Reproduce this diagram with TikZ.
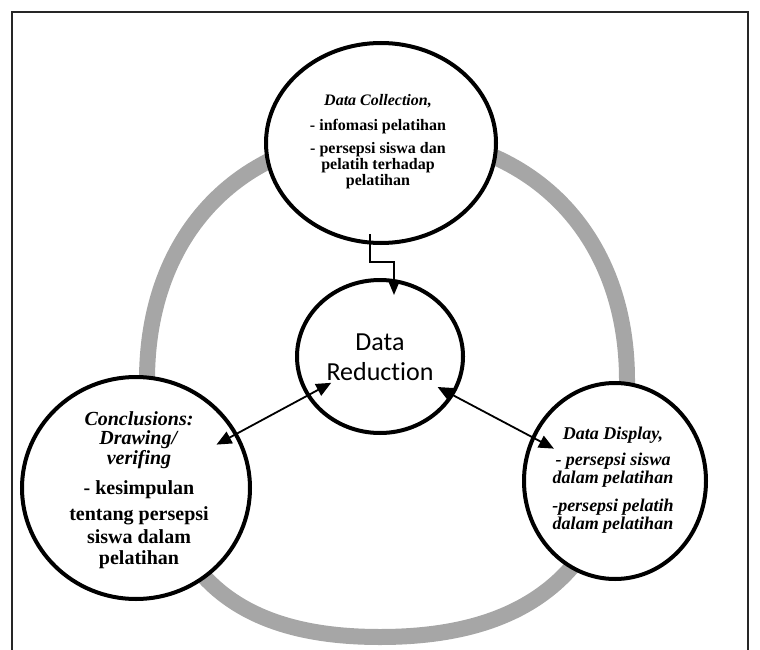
\documentclass[tikz,border=0pt]{standalone}
\usepackage{fontspec}
\setmainfont{Liberation Serif}
\newfontfamily\calfont[Ligatures=NoCommon]{Carlito}
\usepackage{tikz}
\usetikzlibrary{arrows.meta, shapes.geometric, calc}
\definecolor{ringgray}{RGB}{166,166,166}

\begin{document}
\begin{tikzpicture}[x=1pt, y=-1pt,
			ring/.style={draw=ringgray, line width=16pt},
			blob/.style={draw, ellipse, line width=4pt, fill=white, inner sep=0pt},
			txt/.style={align=center, inner sep=0pt},
			conn/.style={line width=1.8pt, -{Triangle[length=15pt, width=12pt]}},
			dbl/.style={line width=1.8pt, {Triangle[length=15pt, width=13pt]}-{Triangle[length=15pt, width=13pt]}}
		]
		\useasboundingbox (0,0) rectangle (760,650);

		% Draw the frame
		\draw[line width=2pt, black!85] (12,650) -- (12,12) -- (748,12) -- (748,650);

		% Draw the ring
		\draw[ring] (385,135) .. controls (530,135) and (627,233) .. (627,380)
			.. controls (627,560) and (540,637) .. (380,637)
			.. controls (220,637) and (147,560) .. (147,380)
			.. controls (147,233) and (242,135) .. cycle;

		% Draw the circles
		\node[blob, minimum width=230pt, minimum height=200pt] (coll) at (381,143) {};
		\node[blob, minimum width=166pt, minimum height=153pt] (red) at (380,356.5) {};
		\node[blob, minimum width=228pt, minimum height=222pt] (concl) at (136,488) {};
		\node[blob, minimum width=182pt, minimum height=196pt] (disp) at (615,481) {};

		% Texts
		\node[txt, font=\bfseries\fontsize{16}{16}\selectfont] (colltext) at (378,142)
			{\textit{Data Collection,}\\[9pt] - infomasi pelatihan\\[7pt] - persepsi siswa dan\\ pelatih terhadap\\ pelatihan};
		\node[txt, font=\calfont\fontsize{26}{30}\selectfont] (redtext) at (380,357.5) {Data\\Reduction};
		\node[txt, font=\bfseries\fontsize{20}{19.5}\selectfont] (concltext) at (139,490)
			{\textit{Conclusions:}\\ \textit{Drawing/}\\ \textit{verifing}\\[11pt] - kesimpulan\\[6pt] tentang persepsi\\[4pt] siswa dalam\\[1pt] pelatihan};
		\node[txt, font=\bfseries\itshape\fontsize{18}{17.5}\selectfont] (disptext) at (613,480)
			{Data Display,\\[9pt] - persepsi siswa\\ dalam pelatihan\\[11pt] -persepsi pelatih\\ dalam pelatihan};

		% Draw the arrows
		\draw[conn] ([xshift=-11pt, yshift=11pt]coll.south) -- ++(0,28) -| ([xshift=14pt, yshift=-17pt]red.north);
		\draw[dbl] ($(red)!0.2!(concl)$) -- ($(red)!0.67!(concl)$);
		\draw[dbl] ($(red)!0.245!(disp)$) -- ($(red)!0.74!(disp)$);

\end{tikzpicture}
\end{document}
